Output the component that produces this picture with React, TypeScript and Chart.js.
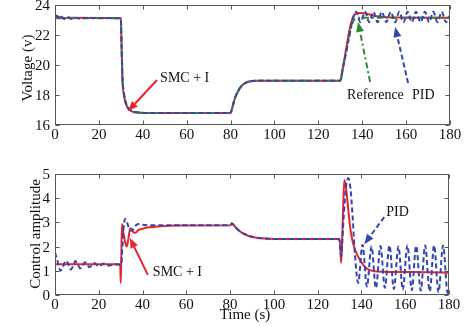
import React, { useEffect, useRef } from "react";
import { Chart, registerables } from "chart.js";

Chart.register(...registerables);

const FONT = "'Liberation Serif', 'Times New Roman', serif";

// ---------- axis ticks ----------
const timeTicks = [0, 20, 40, 60, 80, 100, 120, 140, 160, 180];
const voltTicks = [16, 18, 20, 22, 24];
const ctrlTicks = [0, 1, 2, 3, 4, 5];

// ---------- top: voltage ----------
const refT = [0, 30, 30.3, 30.8, 31.3, 31.9, 32.6, 33.4, 34.5, 35.7, 38, 41, 80, 80.7, 82, 83.7, 85, 86.7, 89, 92, 130, 131, 132, 133, 134, 135, 136, 137, 138.5, 180];
const refV = [23.12, 23.12, 21.5, 18.9, 18.2, 17.65, 17.35, 17.1, 16.97, 16.88, 16.83, 16.8, 16.8, 17.1, 17.8, 18.33, 18.6, 18.8, 18.92, 18.95, 18.95, 19.6, 20.35, 21.1, 21.85, 22.5, 22.95, 23.1, 23.15, 23.15];

const smcT = [0, 2, 4, 6, 30, 30.3, 30.8, 31.3, 31.9, 32.6, 33.4, 34.5, 35.7, 38, 41, 80, 80.7, 82, 83.7, 85, 86.7, 89, 92, 130, 131, 132, 133, 134, 135, 136, 137, 138.5, 141, 143, 146, 150, 155, 180];
const smcV = [23.15, 23.2, 23.1, 23.15, 23.12, 21.4, 18.8, 18.1, 17.6, 17.3, 17.08, 16.95, 16.87, 16.82, 16.8, 16.8, 17.1, 17.8, 18.33, 18.6, 18.8, 18.92, 18.95, 18.95, 19.7, 20.5, 21.35, 22.2, 22.85, 23.25, 23.42, 23.47, 23.45, 23.38, 23.27, 23.2, 23.16, 23.15];

const pidT = [0, 1, 2, 3, 4.5, 6, 7.5, 9, 11, 14, 30, 30.3, 30.8, 31.3, 31.9, 32.6, 33.4, 34.5, 35.7, 38, 41, 80, 80.7, 82, 83.7, 85, 86.7, 89, 92, 130, 131, 132, 133, 134, 135, 136, 137.2, 139.2, 141.3, 143.2, 145.1, 147.0, 148.9, 151.0, 153.0, 155.0, 156.9, 158.8, 160.7, 162.6, 164.5, 166.6, 168.6, 170.5, 172.4, 174.3, 176.2, 178.2, 180];
const pidV = [23.2, 23.28, 23.1, 23.22, 23.05, 23.18, 23.08, 23.15, 23.1, 23.14, 23.12, 21.6, 19.0, 18.25, 17.7, 17.38, 17.12, 16.98, 16.9, 16.84, 16.8, 16.8, 17.1, 17.8, 18.33, 18.6, 18.8, 18.92, 18.95, 18.95, 19.6, 20.35, 21.1, 21.85, 22.6, 23.2, 23.55, 22.85, 23.55, 22.85, 23.55, 22.85, 23.55, 22.85, 23.55, 22.85, 23.55, 22.85, 23.55, 22.85, 23.55, 22.85, 23.55, 22.85, 23.55, 22.85, 23.55, 22.85, 23.3];

// ---------- bottom: control amplitude ----------
const smcUT = [0, 10, 20, 29.8, 30, 30.3, 30.6, 31.2, 32, 32.8, 33.5, 34.3, 35, 36, 37, 38, 40, 43, 48, 55, 80, 80.7, 81.5, 83, 85, 87, 89, 92, 96, 100, 130, 130.4, 130.7, 131.2, 131.7, 132.2, 133, 134, 135, 136, 137, 138, 139, 140, 141, 142, 143.5, 146, 150, 160, 170, 180];
const smcU = [1.27, 1.27, 1.27, 1.27, 0.5, 1.6, 2.93, 2.6, 2.2, 2.0, 2.3, 2.75, 2.75, 2.57, 2.58, 2.68, 2.74, 2.8, 2.84, 2.87, 2.88, 2.95, 2.9, 2.75, 2.6, 2.5, 2.43, 2.37, 2.33, 2.31, 2.31, 1.9, 1.33, 2.3, 3.8, 4.75, 4.4, 3.5, 2.7, 2.2, 1.9, 1.67, 1.5, 1.35, 1.22, 1.13, 1.04, 0.98, 0.96, 0.95, 0.94, 0.92];

const pidUT = [0, 1, 2.5, 3.7, 5, 6, 7.2, 8.2, 9.3, 10.4, 11.5, 12.5, 13.6, 14.6, 15.7, 16.8, 17.9, 19, 20.1, 21.2, 22.3, 23.5, 25, 27, 29.8, 30.3, 30.8, 31.4, 32.1, 33, 34, 35, 36, 37, 38, 40, 43, 80, 80.8, 81.6, 83, 85, 87, 89, 92, 96, 100, 129.8, 130.3, 130.7, 131.3, 132, 133, 134, 135, 136, 137, 138.5, 140.5, 142.5, 144.6, 146.6, 148.7, 150.7, 152.8, 154.8, 156.9, 158.9, 161.0, 163.0, 165.0, 167.1, 169.1, 171.2, 173.2, 175.2, 177.3, 179.4, 180];
const pidU = [1.75, 1.45, 1.0, 1.18, 1.42, 1.3, 1.05, 1.18, 1.4, 1.27, 1.1, 1.2, 1.35, 1.27, 1.15, 1.22, 1.32, 1.25, 1.18, 1.25, 1.3, 1.24, 1.22, 1.27, 1.25, 1.3, 2.0, 2.85, 3.15, 2.98, 2.72, 2.65, 2.75, 2.88, 2.93, 2.9, 2.88, 2.88, 2.95, 2.9, 2.75, 2.6, 2.5, 2.43, 2.37, 2.33, 2.31, 2.31, 1.9, 1.6, 2.3, 3.4, 4.5, 4.83, 4.4, 3.2, 1.7, 0.5, 2.08, 0.35, 2.0, 0.28, 2.02, 0.3, 2.05, 0.25, 2.0, 0.22, 2.05, 0.2, 2.03, 0.18, 2.05, 0.15, 2.05, 0.12, 2.05, 0.08, 0.2];

// ---------- colours ----------
const RED = "#e8252a";
const BLUE = "#3346b0";
const GREEN = "#2a8a3a";
const FRAME = "#555555";

type Pt = [number, number];
type Arrow = { from: Pt; to: Pt; color: string; dash: number[] };
type Label = { text: string; at: Pt };
type Title = { text: string; x: number; y: number; rotate: boolean };

function zip(t: number[], v: number[]) {
  return t.map((x, i) => ({ x, y: v[i] }));
}

function makeDecor(id: string, xt: number[], yt: number[], arrows: Arrow[], labels: Label[], titles: Title[]) {
  return {
    id,
    afterDraw(chart: any) {
      const { ctx, chartArea: a, scales } = chart;
      const xs = scales.x;
      const ys = scales.y;
      ctx.save();
      ctx.setLineDash([]);
      ctx.strokeStyle = FRAME;
      ctx.lineWidth = 1;
      const L = Math.round(a.left) + 0.5;
      const R = Math.round(a.right) - 0.5;
      const T = Math.round(a.top) + 0.5;
      const B = Math.round(a.bottom) - 0.5;
      ctx.strokeRect(L, T, R - L, B - T);
      const tl = 4;
      ctx.beginPath();
      xt.forEach((v) => {
        const px = Math.round(xs.getPixelForValue(v)) + 0.5;
        ctx.moveTo(px, B);
        ctx.lineTo(px, B - tl);
        ctx.moveTo(px, T);
        ctx.lineTo(px, T + tl);
      });
      yt.forEach((v) => {
        const py = Math.round(ys.getPixelForValue(v)) + 0.5;
        ctx.moveTo(L, py);
        ctx.lineTo(L + tl, py);
        ctx.moveTo(R, py);
        ctx.lineTo(R - tl, py);
      });
      ctx.stroke();
      arrows.forEach((ar) => {
        const fx = xs.getPixelForValue(ar.from[0]);
        const fy = ys.getPixelForValue(ar.from[1]);
        const tx = xs.getPixelForValue(ar.to[0]);
        const ty = ys.getPixelForValue(ar.to[1]);
        const dx = tx - fx;
        const dy = ty - fy;
        const len = Math.hypot(dx, dy);
        const ux = dx / len;
        const uy = dy / len;
        const hl = 10;
        const hw = 4;
        const bx = tx - ux * hl;
        const by = ty - uy * hl;
        ctx.strokeStyle = ar.color;
        ctx.fillStyle = ar.color;
        ctx.lineWidth = 2;
        ctx.setLineDash(ar.dash);
        ctx.beginPath();
        ctx.moveTo(fx, fy);
        ctx.lineTo(bx, by);
        ctx.stroke();
        ctx.setLineDash([]);
        ctx.beginPath();
        ctx.moveTo(tx, ty);
        ctx.lineTo(bx - uy * hw, by + ux * hw);
        ctx.lineTo(bx + uy * hw, by - ux * hw);
        ctx.closePath();
        ctx.fill();
      });
      ctx.fillStyle = "#111";
      ctx.font = `14px ${FONT}`;
      ctx.textAlign = "left";
      ctx.textBaseline = "middle";
      labels.forEach((lb) => {
        ctx.fillText(lb.text, xs.getPixelForValue(lb.at[0]), ys.getPixelForValue(lb.at[1]));
      });
      ctx.font = `15px ${FONT}`;
      ctx.textAlign = "center";
      titles.forEach((t) => {
        ctx.save();
        ctx.translate(t.x, t.y);
        if (t.rotate) ctx.rotate(-Math.PI / 2);
        ctx.fillText(t.text, 0, 0);
        ctx.restore();
      });
      ctx.restore();
    },
  };
}

function baseOptions(yMin: number, yMax: number, yStep: number, xHeight: number, pad: any) {
  return {
    responsive: false,
    maintainAspectRatio: false,
    animation: false as const,
    layout: { padding: pad },
    plugins: { legend: { display: false }, tooltip: { enabled: false } },
    elements: { point: { radius: 0 } },
    scales: {
      x: {
        type: "linear" as const,
        min: 0,
        max: 180,
        grid: { display: false, drawTicks: false },
        border: { display: false },
        ticks: { stepSize: 20, padding: 1, color: "#111", font: { family: FONT, size: 15 }, maxRotation: 0 },
        afterFit: (s: any) => {
          s.height = xHeight;
          s.paddingLeft = 0;
          s.paddingRight = 0;
        },
      },
      y: {
        type: "linear" as const,
        min: yMin,
        max: yMax,
        grid: { display: false, drawTicks: false },
        border: { display: false },
        ticks: { stepSize: yStep, padding: 5, color: "#111", font: { family: FONT, size: 15 }, labelOffset: 1 },
        afterFit: (s: any) => {
          s.width = 55;
          s.paddingTop = 0;
          s.paddingBottom = 0;
        },
      },
    },
  };
}

function lineDs(data: any[], color: string, dash: number[], order: number) {
  return {
    data,
    borderColor: color,
    backgroundColor: color,
    borderWidth: 2,
    borderDash: dash,
    pointRadius: 0,
    cubicInterpolationMode: "monotone" as const,
    fill: false,
    order,
  };
}

export default function App() {
  const topRef = useRef<HTMLCanvasElement>(null);
  const botRef = useRef<HTMLCanvasElement>(null);

  useEffect(() => {
    const top = new Chart(topRef.current!, {
      type: "line",
      data: {
        datasets: [
          lineDs(zip(smcT, smcV), RED, [], 2),
          lineDs(zip(refT, refV), GREEN, [6, 3, 2, 3], 1),
          lineDs(zip(pidT, pidV), BLUE, [5, 3], 0),
        ],
      },
      options: baseOptions(16, 24, 2, 35, { left: 0, right: 14, top: 5, bottom: 0 }) as any,
      plugins: [
        makeDecor(
          "decorTop",
          timeTicks,
          voltTicks,
          [
            { from: [46.5, 19.0], to: [33.3, 16.93], color: RED, dash: [] },
            { from: [143.6, 18.87], to: [138.1, 22.87], color: GREEN, dash: [6, 3, 2, 3] },
            { from: [160.9, 18.8], to: [155.0, 22.53], color: BLUE, dash: [5, 3] },
          ],
          [
            { text: "SMC + I", at: [47.9, 19.13] },
            { text: "Reference", at: [133.1, 18.0] },
            { text: "PID", at: [162.7, 18.0] },
          ],
          [{ text: "Voltage (v)", x: 28, y: 68, rotate: true }]
        ) as any,
      ],
    });
    const bot = new Chart(botRef.current!, {
      type: "line",
      data: {
        datasets: [
          lineDs(zip(smcUT, smcU), RED, [], 1),
          lineDs(zip(pidUT, pidU), BLUE, [5, 3], 0),
        ],
      },
      options: baseOptions(0, 5, 1, 32, { left: 0, right: 15, top: 14, bottom: 0 }) as any,
      plugins: [
        makeDecor(
          "decorBot",
          timeTicks,
          ctrlTicks,
          [
            { from: [42.4, 0.83], to: [34.2, 2.36], color: RED, dash: [] },
            { from: [150.4, 3.22], to: [141.3, 2.1], color: BLUE, dash: [5, 3] },
          ],
          [
            { text: "SMC + I", at: [44.7, 0.95] },
            { text: "PID", at: [151.3, 3.43] },
          ],
          [
            { text: "Control amplitude", x: 36, y: 74, rotate: true },
            { text: "Time (s)", x: 245, y: 155, rotate: false },
          ]
        ) as any,
      ],
    });
    return () => {
      top.destroy();
      bot.destroy();
    };
  }, []);

  return (
    <div style={{ position: "absolute", left: 0, top: 0, width: 464, height: 327, background: "#fff" }}>
      <canvas ref={topRef} width={464} height={160} style={{ position: "absolute", left: 0, top: 0, width: 464, height: 160 }} />
      <canvas ref={botRef} width={464} height={167} style={{ position: "absolute", left: 0, top: 160, width: 464, height: 167 }} />
    </div>
  );
}
